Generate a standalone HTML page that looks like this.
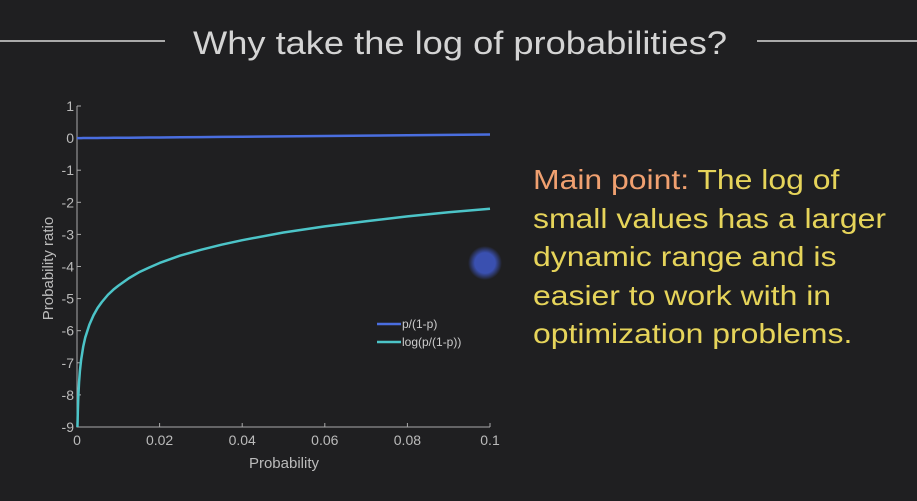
<!DOCTYPE html>
<html><head><meta charset="utf-8"><style>
body{margin:0;background:#1f1f21;width:917px;height:501px;overflow:hidden;font-family:"Liberation Sans",sans-serif}
#main{position:absolute;left:533px;top:161px;font-size:28px;line-height:38.5px;color:#e6d45a;transform:scaleX(1.14);transform-origin:0 0;white-space:nowrap}
</style></head><body>
<svg width="917" height="501" style="position:absolute;left:0;top:0">
<defs><radialGradient id="cg"><stop offset="0.6" stop-color="#3a50b0"/><stop offset="1" stop-color="#3a50b0" stop-opacity="0"/></radialGradient></defs>
<line x1="0" y1="41" x2="165" y2="41" stroke="#aaa" stroke-width="2"/>
<line x1="757" y1="41" x2="917" y2="41" stroke="#aaa" stroke-width="2"/>
<text x="193" y="54" textLength="534" lengthAdjust="spacingAndGlyphs" font-size="32" fill="#d4d4d4">Why take the log of probabilities?</text>
<g id="chart"></g>
<circle cx="485" cy="263" r="17" fill="url(#cg)"/>
</svg>
<div id="main"><span style="color:#f0a070">Main point:</span> The log of<br>small values has a larger<br>dynamic range and is<br>easier to work with in<br>optimization problems.</div>
<script>
const probs=[0.0001,0.00015,0.0002,0.0003,0.0005,0.0007,0.001,0.0015,0.002,0.003,0.004,0.005,0.006,0.0075,0.009,0.01,0.0125,0.015,0.0175,0.02,0.025,0.03,0.035,0.04,0.05,0.06,0.07,0.08,0.09,0.1];
const logOdds=[-9.21,-8.80,-8.52,-8.11,-7.60,-7.26,-6.91,-6.50,-6.21,-5.81,-5.52,-5.29,-5.11,-4.88,-4.70,-4.60,-4.37,-4.18,-4.03,-3.89,-3.66,-3.48,-3.32,-3.18,-2.94,-2.75,-2.59,-2.44,-2.31,-2.20];
const odds=[0.0001,0.00015,0.0002,0.0003,0.0005,0.0007,0.001,0.0015,0.002,0.003,0.004,0.005,0.006,0.0076,0.0091,0.0101,0.0127,0.0152,0.0178,0.0204,0.0256,0.0309,0.0363,0.0417,0.0526,0.0638,0.0753,0.087,0.0989,0.111];
const xTicks=[0,0.02,0.04,0.06,0.08,0.1];
const xTickLabels=["0","0.02","0.04","0.06","0.08","0.1"];
const yTicks=[1,0,-1,-2,-3,-4,-5,-6,-7,-8,-9];
const NS="http://www.w3.org/2000/svg";
const g=document.getElementById('chart');
const X0=77,X1=490,Y0=106,Y1=427;
const xs=v=>X0+(v-0)/(0.1)*(X1-X0);
const ys=v=>Y0+(1-v)/10*(Y1-Y0);
function mk(t,a,txt){const e=document.createElementNS(NS,t);for(const k in a)e.setAttribute(k,a[k]);if(txt!=null)e.textContent=txt;g.appendChild(e);return e;}
let e=mk('path',{d:`M${X0},${Y0}V${Y1}H${X1}`,stroke:'#aaa',fill:'none','stroke-width':1});


xTicks.forEach((v,i)=>{
 let t=mk('line',{x1:xs(v),x2:xs(v),y1:Y1,y2:Y1-4,stroke:'#aaa'});
 
 
 let l=mk('text',{x:xs(v),y:Y1+18,'text-anchor':'middle','font-size':14,fill:'#bbb'},xTickLabels[i]);
 
 
});
yTicks.forEach(v=>{
 let t=mk('line',{x1:X0,x2:X0+4,y1:ys(v),y2:ys(v),stroke:'#aaa'});
 
 
 let l=mk('text',{x:X0-3,y:ys(v)+5,'text-anchor':'end','font-size':14,fill:'#bbb'},String(v));
 
 
});
let xt=mk('text',{x:284,y:468,'text-anchor':'middle','font-size':15,fill:'#bbb'},'Probability');


let yt=mk('text',{x:0,y:0,'text-anchor':'middle','font-size':15,fill:'#bbb',transform:`translate(53,${(Y0+Y1)/2+2}) rotate(-90)`},'Probability ratio');


const clip=v=>Math.max(-9,v);
let p1=mk('polyline',{points:[[X0,ys(0)]].concat(probs.map((p,i)=>[xs(p),ys(odds[i])])).join(' '),stroke:'#4a6ee0',fill:'none','stroke-width':2.5});


let p2=mk('polyline',{points:probs.map((p,i)=>[xs(p),ys(clip(logOdds[i]))]).join(' '),stroke:'#4cc4c8',fill:'none','stroke-width':2.5,'stroke-linejoin':'round'});


let a=mk('line',{x1:377,x2:401,y1:324,y2:324,stroke:'#4a6ee0','stroke-width':2.5});


let at=mk('text',{x:402,y:328,'font-size':12,fill:'#ccc'},'p/(1-p)');


let b=mk('line',{x1:377,x2:401,y1:342,y2:342,stroke:'#4cc4c8','stroke-width':2.5});


let bt=mk('text',{x:402,y:346,'font-size':12,fill:'#ccc'},'log(p/(1-p))');


</script>
</body></html>
